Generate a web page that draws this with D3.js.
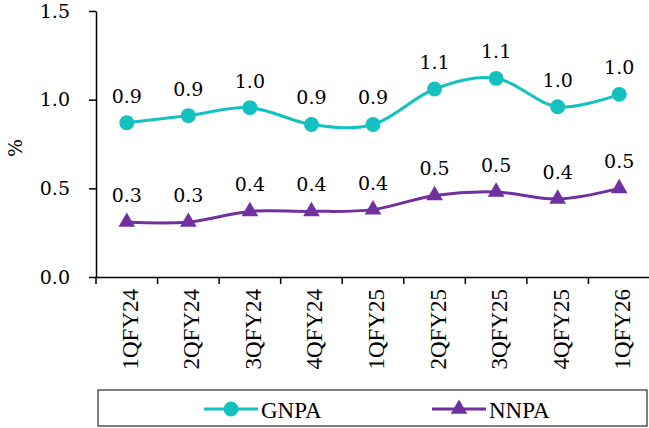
<!DOCTYPE html>
<html>
<head>
<meta charset="utf-8">
<script src="https://cdn.jsdelivr.net/npm/d3@7"></script>
<style>
  body { margin: 0; background: #fff; }
</style>
</head>
<body>
<div id="chart"></div>
<script>
const quarters = ["1QFY24", "2QFY24", "3QFY24", "4QFY24", "1QFY25", "2QFY25", "3QFY25", "4QFY25", "1QFY26"];
const gnpa = [0.87, 0.91, 0.955, 0.86, 0.86, 1.06, 1.12, 0.96, 1.03];
const nnpa = [0.31, 0.31, 0.37, 0.37, 0.38, 0.46, 0.48, 0.44, 0.50];
const yTicks = [0, 0.5, 1.0, 1.5];

const width = 649, height = 428;
const margin = { top: 11, right: -1, bottom: 151, left: 96 };

const svg = d3.select("#chart").append("svg")
    .attr("width", width)
    .attr("height", height);

const x = d3.scaleBand().domain(quarters).range([margin.left, width - margin.right]);
const y = d3.scaleLinear().domain([0, 1.5]).range([height - margin.bottom, margin.top]);

const numFont = "'DejaVu Serif', serif";
const txtFont = "'Liberation Serif', 'Times New Roman', serif";

// y axis
const yAxis = svg.append("g")
    .attr("transform", `translate(${margin.left},0)`)
    .call(d3.axisLeft(y).tickValues(yTicks).tickFormat(d3.format(".1f")).tickSize(7).tickSizeOuter(0).tickPadding(19));
yAxis.selectAll("text").style("font-family", numFont).style("font-size", "19px").attr("fill", "#000");
yAxis.selectAll("line, path").attr("stroke", "#000").attr("stroke-width", 1.5);

// x axis
const xAxis = svg.append("g")
    .attr("transform", `translate(0,${y(0)})`)
    .call(d3.axisBottom(x).tickSize(0).tickSizeOuter(0).tickFormat(""));
xAxis.select("path").attr("stroke", "#000").attr("stroke-width", 1.5);
xAxis.append("g")
    .selectAll("line")
    .data(d3.range(quarters.length + 1))
    .join("line")
    .attr("x1", i => margin.left + i * x.step())
    .attr("x2", i => margin.left + i * x.step())
    .attr("y1", 0).attr("y2", 7)
    .attr("stroke", "#000").attr("stroke-width", 1.5);
xAxis.append("g")
    .selectAll("text")
    .data(quarters)
    .join("text")
    .attr("transform", d => `translate(${x(d) + x.bandwidth() / 2 + 11},12) rotate(-90)`)
    .attr("text-anchor", "end")
    .style("font-family", txtFont)
    .style("font-size", "23px")
    .attr("fill", "#000")
    .text(d => d);

svg.append("text")
    .attr("transform", `translate(22,${(y(0) + y(1.5)) / 2 + 4}) rotate(-90)`)
    .attr("text-anchor", "middle")
    .style("font-family", numFont)
    .style("font-size", "19px")
    .text("%");

const series = [
    { name: "GNPA", values: gnpa, color: "#13C1C1", marker: d3.symbolCircle, size: 175 },
    { name: "NNPA", values: nnpa, color: "#7030A0", marker: d3.symbolTriangle, size: 120 }
];

const line = d3.line()
    .x((d, i) => x(quarters[i]) + x.bandwidth() / 2)
    .y(d => y(d))
    .curve(d3.curveCardinal.tension(0));

series.forEach(s => {
    const g = svg.append("g");
    g.append("path")
        .datum(s.values)
        .attr("d", line)
        .attr("fill", "none")
        .attr("stroke", s.color)
        .attr("stroke-width", 3);
    g.selectAll("path.mk")
        .data(s.values)
        .join("path")
        .attr("class", "mk")
        .attr("transform", (d, i) => `translate(${x(quarters[i]) + x.bandwidth() / 2},${y(d)})`)
        .attr("d", d3.symbol().type(s.marker).size(s.size))
        .attr("fill", s.color);
    g.selectAll("text")
        .data(s.values)
        .join("text")
        .attr("x", (d, i) => x(quarters[i]) + x.bandwidth() / 2)
        .attr("y", d => y(d) - 20)
        .attr("text-anchor", "middle")
        .style("font-family", numFont)
        .style("font-size", "19px")
        .text(d => d3.format(".1f")(d));
});

// legend
const legend = svg.append("g");
legend.append("rect")
    .attr("x", 98).attr("y", 390)
    .attr("width", 549).attr("height", 36)
    .attr("fill", "none").attr("stroke", "#000").attr("stroke-width", 1);
const legX = [204, 432];
series.forEach((s, i) => {
    const lg = legend.append("g").attr("transform", `translate(${legX[i]},409)`);
    lg.append("line").attr("x1", 0).attr("x2", 54).attr("stroke", s.color).attr("stroke-width", 3);
    lg.append("path").attr("transform", "translate(27,0)")
        .attr("d", d3.symbol().type(s.marker).size(s.size)).attr("fill", s.color);
    lg.append("text").attr("x", 57).attr("y", 9)
        .style("font-family", txtFont).style("font-size", "23px")
        .text(s.name);
});
</script>
</body>
</html>
